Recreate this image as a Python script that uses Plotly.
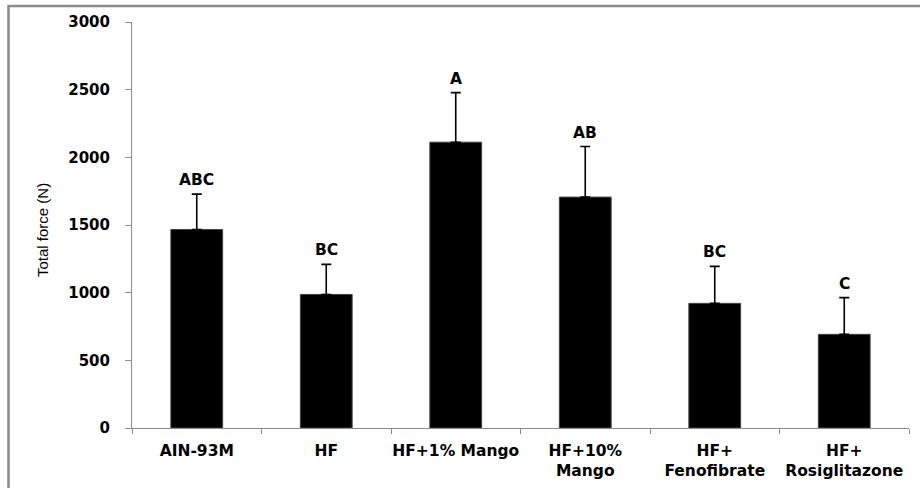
import plotly.graph_objects as go

categories = ["AIN-93M", "HF", "HF+1% Mango", "HF+10%<br>Mango", "HF+<br>Fenofibrate", "HF+<br>Rosiglitazone"]
values = [1467, 987, 2112, 1706, 921, 692]
errors = [261, 222, 366, 374, 273, 271]
letters = ["ABC", "BC", "A", "AB", "BC", "C"]
y_ticks = [0, 500, 1000, 1500, 2000, 2500, 3000]

W, H = 920, 488
L, R, T, B = 132, 11, 22, 60
pw, ph = W - L - R, H - T - B

def px_x(x):  # reference pixel -> paper x
    return (x - L) / pw

def px_y(y):  # reference pixel -> paper y
    return (H - B - y) / ph

fig = go.Figure()
fig.add_trace(go.Bar(
    x=categories, y=values,
    marker=dict(color="black", line=dict(color="#444444", width=1)),
    error_y=dict(type="data", symmetric=False, array=errors, arrayminus=[0]*len(errors),
                 color="black", thickness=1.6, width=5),
    width=0.4,
))

for c, v, e, t in zip(categories, values, errors, letters):
    fig.add_annotation(x=c, y=v + e, text=t, showarrow=False, yshift=14,
                       xanchor="center", yanchor="middle",
                       font=dict(family="DejaVu Sans", size=15.5, color="black", weight="bold"))

fig.add_annotation(xref="paper", yref="paper", x=px_x(42), y=px_y(230),
                   text="Total force (N)", textangle=-90, showarrow=False,
                   xanchor="center", yanchor="middle",
                   font=dict(family="Liberation Sans, Arial, sans-serif", size=15, color="black"))

# outer frame (partially clipped in original)
fig.add_shape(type="rect", xref="paper", yref="paper",
              x0=px_x(8.5), x1=px_x(960),
              y0=px_y(530), y1=px_y(6),
              line=dict(color="#8a8a8a", width=2.5), layer="above")

fig.update_layout(
    width=W, height=H,
    margin=dict(l=L, r=R, t=T, b=B, pad=0, autoexpand=False),
    plot_bgcolor="white", paper_bgcolor="white",
    showlegend=False,
    bargap=0.6,
    xaxis=dict(showline=True, linecolor="#8c8c8c", linewidth=1, automargin=False, tickangle=0,
               ticks="outside", ticklen=5, tickcolor="#8c8c8c", tickson="boundaries",
               ticklabelstandoff=8,
               tickfont=dict(family="DejaVu Sans", size=15.5, color="black", weight="bold")),
    yaxis=dict(range=[0, 3000], tickvals=y_ticks, showline=True, linecolor="#8c8c8c", linewidth=1,
               automargin=False,
               ticks="outside", ticklen=6, tickcolor="#8c8c8c", showgrid=False, zeroline=False,
               ticklabelstandoff=12,
               tickfont=dict(family="DejaVu Sans", size=15, color="black", weight="bold")),
)

fig.write_html("out.html", config={"displayModeBar": False},
               post_script="document.body.style.margin='0';document.body.style.overflow='hidden';")
